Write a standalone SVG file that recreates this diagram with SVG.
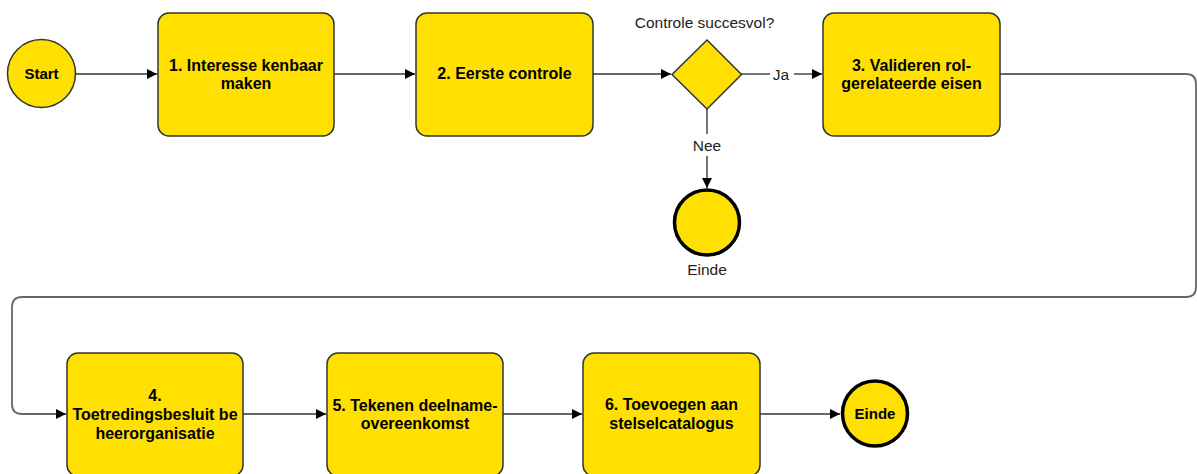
<svg xmlns="http://www.w3.org/2000/svg" width="1197" height="474" viewBox="0 0 1197 474">
<defs>
<marker id="arr" viewBox="0 0 10 10" refX="10" refY="5" markerWidth="10" markerHeight="10" markerUnits="userSpaceOnUse" orient="auto">
<path d="M0,0 L10,5 L0,10 z" fill="#000"/>
</marker>
<style>
.box{fill:#FFE000;stroke:#333;stroke-width:1.5}
.ev{fill:#FFE000;stroke:#333;stroke-width:1.5}
.end{fill:#FFE000;stroke:#000;stroke-width:3.5}
.t{font-family:"Liberation Sans",Arial,sans-serif;font-size:16px;font-weight:bold;fill:#000;text-anchor:middle}
.s{font-size:15px}
.l{font-family:"Liberation Sans",Arial,sans-serif;font-size:15.5px;fill:#222;text-anchor:middle}
.c{fill:none;stroke:#666;stroke-width:1.8}
</style>
</defs>
<rect width="1197" height="474" fill="#fff"/>
<g id="connectors">
<line class="c" x1="76" y1="74" x2="157" y2="74" marker-end="url(#arr)"/>
<line class="c" x1="334" y1="74" x2="415" y2="74" marker-end="url(#arr)"/>
<line class="c" x1="593" y1="74" x2="671" y2="74" marker-end="url(#arr)"/>
<line class="c" x1="741" y1="74" x2="770" y2="74"/>
<line class="c" x1="794" y1="74" x2="822" y2="74" marker-end="url(#arr)"/>
<text class="l" x="781" y="79.5">Ja</text>
<line class="c" x1="707" y1="109" x2="707" y2="134"/>
<line class="c" x1="707" y1="156" x2="707" y2="188" marker-end="url(#arr)"/>
<text class="l" x="707" y="151">Nee</text>
<path class="c" d="M1000,74 H1186 Q1196,74 1196,84 V287 Q1196,297 1186,297 H22 Q12,297 12,307 V404 Q12,414 22,414 H66" marker-end="url(#arr)"/>
<line class="c" x1="243" y1="414" x2="326" y2="414" marker-end="url(#arr)"/>
<line class="c" x1="503" y1="414" x2="582" y2="414" marker-end="url(#arr)"/>
<line class="c" x1="760" y1="414" x2="840" y2="414" marker-end="url(#arr)"/>
</g>
<g id="start">
<circle class="ev" cx="41.5" cy="73.5" r="34"/>
<text class="t s" x="41.5" y="79">Start</text>
</g>
<g id="step1">
<rect class="box" x="158" y="13" width="176" height="123" rx="11"/>
<text class="t" x="246" y="71">1. Interesse kenbaar</text>
<text class="t" x="246" y="89">maken</text>
</g>
<g id="step2">
<rect class="box" x="416" y="13" width="177" height="123" rx="11"/>
<text class="t" x="504.5" y="79">2. Eerste controle</text>
</g>
<g id="gateway">
<text class="l" x="704.5" y="28">Controle succesvol?</text>
<polygon class="box" points="707,40 741.5,74.5 707,109 672,74.5"/>
</g>
<g id="end1">
<circle class="end" cx="707" cy="222.5" r="32.5"/>
<text class="l" x="707" y="275">Einde</text>
</g>
<g id="step3">
<rect class="box" x="823" y="13" width="177" height="123" rx="11"/>
<text class="t" x="911.5" y="71">3. Valideren rol-</text>
<text class="t" x="911.5" y="89">gerelateerde eisen</text>
</g>
<g id="step4">
<rect class="box" x="67" y="353" width="176" height="123" rx="11"/>
<text class="t" x="155" y="401">4.</text>
<text class="t" x="155" y="420">Toetredingsbesluit be</text>
<text class="t" x="155" y="439">heerorganisatie</text>
</g>
<g id="step5">
<rect class="box" x="327" y="353" width="176" height="123" rx="11"/>
<text class="t" x="415" y="411">5. Tekenen deelname-</text>
<text class="t" x="415" y="429">overeenkomst</text>
</g>
<g id="step6">
<rect class="box" x="583" y="353" width="177" height="123" rx="11"/>
<text class="t" x="671.5" y="410">6. Toevoegen aan</text>
<text class="t" x="671.5" y="429">stelselcatalogus</text>
</g>
<g id="end2">
<circle class="end" cx="875" cy="413.5" r="32.5"/>
<text class="t s" x="875" y="419">Einde</text>
</g>
</svg>
